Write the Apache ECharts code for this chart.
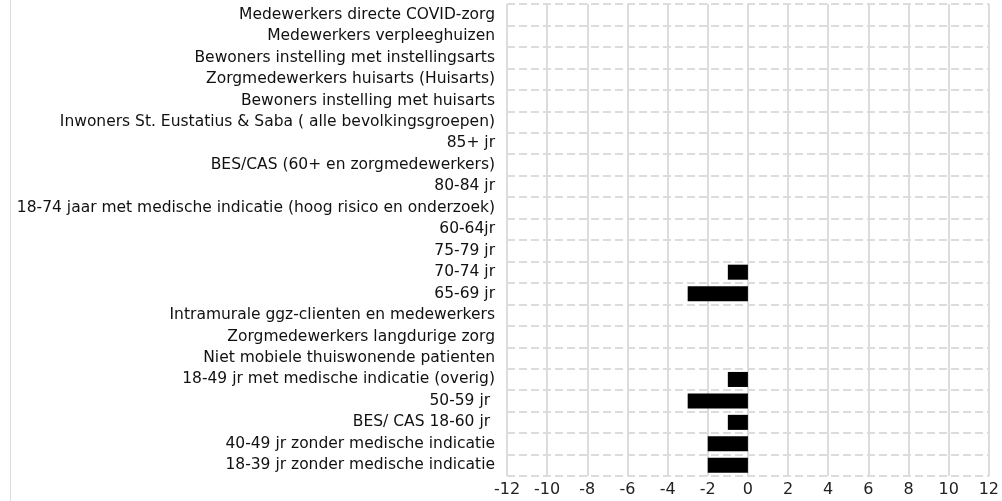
<!DOCTYPE html>
<html lang="nl">

<head>
    <meta charset="UTF-8">
    <title>Vaccinaties per groep</title>
    <script src="https://cdn.jsdelivr.net/npm/echarts@6/dist/echarts.min.js"></script>
    <style>
        body { margin: 0; background: #fff; }
    </style>
</head>

<body>
    <div id="main" style="width: 1002px;height:501px;"></div>

    <script>
        // categorieen, van boven naar beneden
        const groepen = [
            'Medewerkers directe COVID-zorg',
            'Medewerkers verpleeghuizen',
            'Bewoners instelling met instellingsarts',
            'Zorgmedewerkers huisarts (Huisarts)',
            'Bewoners instelling met huisarts',
            'Inwoners St. Eustatius & Saba ( alle bevolkingsgroepen)',
            '85+ jr',
            'BES/CAS (60+ en zorgmedewerkers)',
            '80-84 jr',
            '18-74 jaar met medische indicatie (hoog risico en onderzoek)',
            '60-64jr',
            '75-79 jr',
            '70-74 jr',
            '65-69 jr',
            'Intramurale ggz-clienten en medewerkers',
            'Zorgmedewerkers langdurige zorg',
            'Niet mobiele thuiswonende patienten',
            '18-49 jr met medische indicatie (overig)',
            '50-59 jr ',
            'BES/ CAS 18-60 jr ',
            '40-49 jr zonder medische indicatie',
            '18-39 jr zonder medische indicatie'
        ];
        // waarden per groep
        const waarden = [0, 0, 0, 0, 0, 0, 0, 0, 0, 0, 0, 0, -1, -3, 0, 0, 0, -1, -3, -1, -2, -2];
        const xMin = -12, xMax = 12, xStap = 2;

        const myChart = echarts.init(document.getElementById('main'));

        let option = {
            animation: false,
            textStyle: { fontFamily: 'DejaVu Sans' },
            grid: { left: 507, right: 10, top: 4, bottom: 25 },
            graphic: [{
                type: 'line',
                shape: { x1: 10.5, y1: 0, x2: 10.5, y2: 501 },
                style: { stroke: '#dcdcdc', lineWidth: 1 }
            }],
            xAxis: {
                type: 'value',
                min: xMin,
                max: xMax,
                interval: xStap,
                axisLine: { show: false },
                axisTick: { show: false },
                axisLabel: { color: '#222', fontSize: 16, margin: 6 },
                splitLine: { lineStyle: { color: '#dcdcdc', width: 2 } }
            },
            yAxis: {
                type: 'category',
                inverse: true,
                data: groepen,
                axisLine: { show: false },
                axisTick: { show: false },
                axisLabel: { color: '#111', fontSize: 15.5, margin: 12 },
                splitLine: { show: true, lineStyle: { color: '#dcdcdc', type: [8, 4], width: 2 } }
            },
            series: [{
                type: 'bar',
                data: waarden,
                barWidth: '70%',
                itemStyle: { color: '#000' }
            }]
        };

        myChart.setOption(option);
    </script>
</body>

</html>
